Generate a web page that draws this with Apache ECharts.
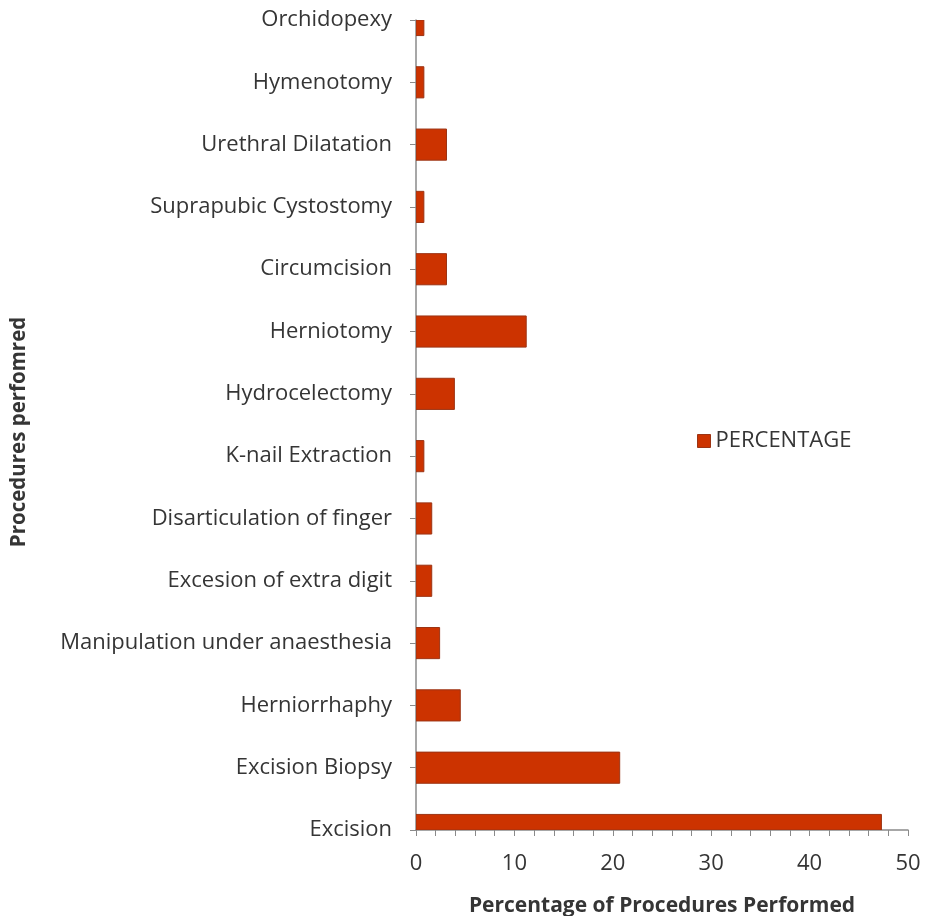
<!DOCTYPE html>
<html>
<head>
<meta charset="utf-8">
<script src="https://cdn.jsdelivr.net/npm/echarts@6/dist/echarts.min.js"></script>
<style>
  html, body { margin: 0; padding: 0; background: #ffffff; }
  #chart { width: 932px; height: 916px; }
</style>
</head>
<body>
<div id="chart"></div>
<script>
// Procedures, listed bottom-to-top as the category axis draws them
const procedures = [
  'Excision',
  'Excision Biopsy',
  'Herniorrhaphy',
  'Manipulation under anaesthesia',
  'Excesion of extra digit',
  'Disarticulation of finger',
  'K-nail Extraction',
  'Hydrocelectomy',
  'Herniotomy',
  'Circumcision',
  'Suprapubic Cystostomy',
  'Urethral Dilatation',
  'Hymenotomy',
  'Orchidopexy'
];

// Share of all procedures performed (%)
const percentage = [47.3, 20.7, 4.5, 2.4, 1.6, 1.6, 0.8, 3.9, 11.2, 3.1, 0.8, 3.1, 0.8, 0.8];

const xTicks = { min: 0, max: 50, interval: 10 };

const fontFamily = '"Open Sans", Lato, sans-serif';
const textColor = '#353535';
const axisColor = '#8a8a8a';
const barColor = '#cc3300';
const barEdge = '#9c3414';

// Bars sit on the category ticks and are clipped to the plot area,
// so the first and last categories show only the half inside the axes.
function renderBar(params, api) {
  const idx = api.value(1);
  const val = api.value(0);
  const start = api.coord([0, idx]);
  const end = api.coord([val, idx]);
  const thickness = api.size([0, 1])[1] * 0.5;
  const cs = params.coordSys;
  const shape = echarts.graphic.clipRectByRect(
    { x: start[0], y: start[1] - thickness / 2, width: end[0] - start[0], height: thickness },
    { x: cs.x, y: cs.y, width: cs.width, height: cs.height }
  );
  if (!shape) return null;
  return {
    type: 'rect',
    shape: shape,
    style: { fill: barColor, stroke: barEdge, lineWidth: 1 }
  };
}

const chart = echarts.init(document.getElementById('chart'));

chart.setOption({
  animation: false,
  backgroundColor: '#ffffff',
  textStyle: { fontFamily: fontFamily },
  legend: {
    data: [{ name: 'PERCENTAGE', icon: 'rect' }],
    left: 692,
    top: 425,
    itemWidth: 13,
    itemHeight: 13,
    itemGap: 10,
    itemStyle: { color: barColor, borderColor: barEdge, borderWidth: 1 },
    textStyle: { fontSize: 22, color: textColor, fontFamily: fontFamily }
  },
  grid: { left: 416, right: 24, top: 20, bottom: 86, containLabel: false, outerBoundsMode: 'none' },
  xAxis: {
    type: 'value',
    min: xTicks.min,
    max: xTicks.max,
    interval: xTicks.interval,
    name: 'Percentage of Procedures Performed',
    nameLocation: 'middle',
    nameGap: 66,
    nameTextStyle: { fontSize: 21, fontWeight: 'bold', color: textColor, fontFamily: fontFamily },
    axisLine: { show: true, lineStyle: { color: axisColor, width: 1.5 } },
    axisTick: { show: true, length: 6, lineStyle: { color: axisColor } },
    minorTick: { show: true, splitNumber: 5, length: 6, lineStyle: { color: axisColor } },
    splitLine: { show: false },
    axisLabel: { fontSize: 22, color: textColor, margin: 23, fontFamily: fontFamily }
  },
  yAxis: {
    type: 'category',
    data: procedures,
    boundaryGap: false,
    name: 'Procedures perfomred',
    nameLocation: 'middle',
    nameGap: 386,
    nameTextStyle: { fontSize: 20.5, fontWeight: 'bold', color: textColor, fontFamily: fontFamily, padding: [0, 14, 0, 0] },
    axisLine: { show: true, lineStyle: { color: axisColor, width: 1.5 } },
    axisTick: { show: true, length: 6, lineStyle: { color: axisColor } },
    splitLine: { show: false },
    axisLabel: { fontSize: 22, color: textColor, margin: 24, fontFamily: fontFamily }
  },
  series: [{
    name: 'PERCENTAGE',
    type: 'custom',
    renderItem: renderBar,
    itemStyle: { color: barColor, borderColor: barEdge, borderWidth: 1 },
    encode: { x: 0, y: 1 },
    clip: true,
    data: percentage.map((v, i) => [v, i])
  }]
});
</script>
</body>
</html>
